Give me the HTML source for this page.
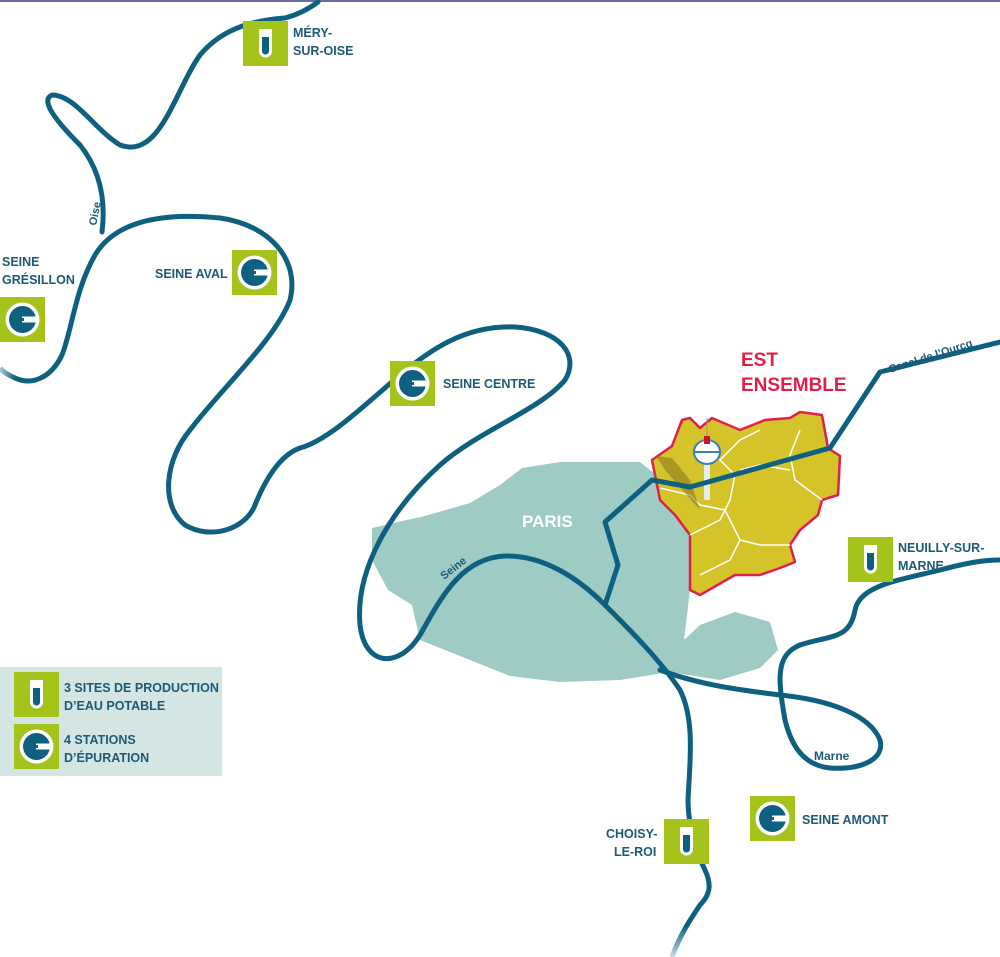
<!DOCTYPE html>
<html><head><meta charset="utf-8"><style>
html,body{margin:0;padding:0;background:#fff;}
svg{display:block}
text{font-family:"Liberation Sans",sans-serif;font-weight:bold;fill:#1d5a78;font-size:12.5px}
</style></head><body>
<svg width="1000" height="957" viewBox="0 0 1000 957" xmlns="http://www.w3.org/2000/svg">
<defs>
<linearGradient id="fl" x1="0" y1="0" x2="1" y2="0"><stop offset="0" stop-color="#a9cbd6"/><stop offset="1" stop-color="#0e6080"/></linearGradient>
<linearGradient id="fb" x1="0" y1="1" x2="0" y2="0"><stop offset="0" stop-color="#c6dde4"/><stop offset="0.6" stop-color="#0e6080"/></linearGradient>
<g id="st"><rect x="0" y="0" width="45" height="45" fill="#a4c41c"/><circle cx="22.5" cy="22.5" r="17" fill="#fff"/><circle cx="22.5" cy="22.5" r="13.5" fill="#0e6080"/><rect x="22" y="19.5" width="16" height="6" fill="#fff"/><rect x="22" y="21" width="16" height="3" fill="#0e6080"/><rect x="24" y="21" width="15" height="3" fill="#fff"/></g>
<g id="tb"><rect x="0" y="0" width="45" height="45" fill="#a4c41c"/><path d="M16 8 h13 v22 a6.5 6.5 0 0 1 -13 0 z" fill="#fff"/><path d="M19 16 h7 v14 a3.5 3.5 0 0 1 -7 0 z" fill="#0e6080"/></g>
</defs>
<rect x="0" y="0" width="1000" height="2" fill="#6a6aa8"/>
<path d="M372 528 L398 522 L425 516 L470 503 L500 485 L522 468 L560 462 L600 462 L640 462 L660 478 L680 505 L692 530 L690 590 L684 640 L700 625 L735 612 L770 622 L778 650 L760 668 L720 680 L670 672 L620 680 L560 682 L510 676 L470 660 L440 648 L420 640 L412 605 L388 590 L372 560 Z" fill="#9ecbc4"/>
<path d="M652 460 L672 446 L682 420 L690 418 L700 428 L712 418 L740 430 L765 420 L790 418 L800 412 L822 415 L828 448 L840 456 L838 495 L822 500 L818 515 L800 530 L790 545 L795 562 L780 568 L760 575 L735 575 L700 595 L690 590 L690 535 L675 515 L660 500 Z" fill="#d4c42a" stroke="#e0204a" stroke-width="2.5" stroke-linejoin="round"/>
<g fill="none" stroke="#fff" stroke-width="1.5">
<path d="M660 488 L690 495 L700 505 L725 510 L740 540 L760 545 L790 545"/>
<path d="M690 535 L720 520 L730 500 L735 475 L720 460 L740 440 L760 430"/>
<path d="M740 540 L730 560 L700 575"/>
<path d="M800 430 L790 455 L795 480 L822 500"/>
<path d="M740 470 L760 465 L790 470"/>
</g>
<path d="M656 456 L665 470 L700 510 L690 480 L672 458 Z" fill="#8a7a20" opacity="0.6"/>
<rect x="704" y="462" width="6" height="38" fill="#e6eef2"/>
<ellipse cx="707" cy="452" rx="13" ry="12" fill="#fff" stroke="#3a7fb8" stroke-width="2"/>
<line x1="695" y1="452" x2="719" y2="452" stroke="#3a7fb8" stroke-width="2"/>
<rect x="704" y="436" width="6" height="8" fill="#d01030"/>
<line x1="707" y1="418" x2="707" y2="436" stroke="#999" stroke-width="1"/>
<g fill="none" stroke="#0e6080" stroke-width="5" stroke-linecap="round" stroke-linejoin="round">
<path d="M605 605 C580 580 545 555 505 556 C460 558 440 600 420 635 C400 668 365 668 360 625 C355 570 390 510 440 465 C480 430 540 410 565 380 C580 355 560 330 515 327 C465 325 430 350 400 375 C370 400 330 440 300 448 C280 455 265 480 255 505 C245 530 210 540 185 525 C160 505 165 460 190 430 C220 390 275 340 290 300 C300 260 270 225 220 218 C160 212 115 222 95 255 C75 290 72 330 62 355 C50 380 30 385 15 378"/>
<path d="M102 232 C106 200 100 170 80 145 C55 120 40 100 52 95 C75 95 95 130 120 145 C160 160 175 90 200 55 C225 25 260 20 285 18 C300 14 310 8 318 2"/>
<path d="M605 605 C630 630 660 660 680 690 C695 720 690 760 688 800 C688 830 700 860 705 870 C712 885 710 895 700 905"/>
<path d="M605 605 L618 565 L605 522 L652 480 L690 487 L830 448 L880 372 L1000 342"/>
<path d="M660 670 C700 685 740 690 780 695 C830 700 870 715 880 740 C885 760 860 770 830 768 C800 765 790 740 785 720 C778 680 775 655 800 645 C830 635 850 640 855 610 C860 585 900 580 940 570 C970 562 985 560 1000 560"/>
</g>
<path d="M15 378 C8 375 3 372 0 368" stroke="url(#fl)" stroke-width="5" fill="none"/>
<path d="M700 905 C690 920 680 935 672 957" stroke="url(#fb)" stroke-width="5" fill="none"/>
<text transform="translate(96 226) rotate(-78)" style="font-size:11px">Oise</text>
<text transform="translate(444 580) rotate(-38)" style="font-size:11px">Seine</text>
<text transform="translate(890 373) rotate(-18)" style="font-size:11px">Canal de l’Ourcq</text>
<text x="814" y="760" style="font-size:12px">Marne</text>
<use href="#tb" x="243" y="21"/>
<text x="293" y="37">MÉRY-</text><text x="293" y="55">SUR-OISE</text>
<use href="#st" x="232" y="250"/>
<text x="155" y="278">SEINE AVAL</text>
<text x="2" y="266">SEINE</text><text x="2" y="284">GRÉSILLON</text>
<use href="#st" x="0" y="297"/>
<use href="#st" x="390" y="361"/>
<text x="443" y="388">SEINE CENTRE</text>
<use href="#tb" x="848" y="537"/>
<text x="898" y="552">NEUILLY-SUR-</text><text x="898" y="570">MARNE</text>
<use href="#st" x="750" y="796"/>
<text x="802" y="824">SEINE AMONT</text>
<use href="#tb" x="664" y="819"/>
<text x="606" y="838">CHOISY-</text><text x="614" y="856">LE-ROI</text>
<text x="522" y="527" style="fill:#fff;font-size:17px">PARIS</text>
<text x="741" y="366" style="fill:#e0204a;font-size:19px">EST</text>
<text x="741" y="391" style="fill:#e0204a;font-size:19px">ENSEMBLE</text>
<rect x="0" y="667" width="222" height="109" fill="#d3e6e3"/>
<use href="#tb" x="14" y="672"/>
<use href="#st" x="14" y="724"/>
<text x="64" y="692">3 SITES DE PRODUCTION</text><text x="64" y="710">D’EAU POTABLE</text>
<text x="64" y="744">4 STATIONS</text><text x="64" y="762">D’ÉPURATION</text>
</svg>
</body></html>
